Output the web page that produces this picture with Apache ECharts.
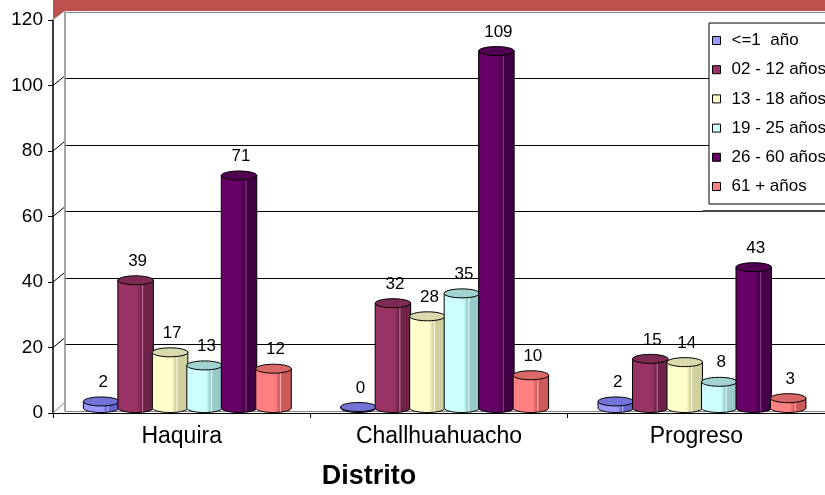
<!DOCTYPE html>
<html><head><meta charset="utf-8">
<script src="https://cdn.jsdelivr.net/npm/echarts@6/dist/echarts.min.js"></script>
<style>html,body{margin:0;padding:0;background:#fff}#c{width:825px;height:495px}</style>
</head><body><div id="c"></div>
<script>
// ---- data ----
const categories = ['Haquira', 'Challhuahuacho', 'Progreso'];
const seriesNames = ['<=1  año', '02 - 12 años', '13 - 18 años', '19 - 25 años', '26 - 60 años', '61 + años'];
const v_le1   = [2, 0, 2];
const v_02_12 = [39, 32, 15];
const v_13_18 = [17, 28, 14];
const v_19_25 = [13, 35, 8];
const v_26_60 = [71, 109, 43];
const v_61    = [12, 10, 3];
const yTicks  = [0, 20, 40, 60, 80, 100, 120];
const axisTitle = 'Distrito';

// ---- styles ----
const FONT = 'Liberation Sans, Arial, sans-serif';
const palette = [
  {base:'#9999FF', dark:'#6565C8', top:'#7474D8', light:'#B8B8FF'},
  {base:'#993366', dark:'#6E2248', top:'#7F2A55', light:'#C07098'},
  {base:'#FFFFCC', dark:'#CFCFA0', top:'#DADAAE', light:'#FFFFE8'},
  {base:'#CCFFFF', dark:'#98CACA', top:'#A2D2D2', light:'#E8FFFF'},
  {base:'#660066', dark:'#440044', top:'#520052', light:'#8A3A8A'},
  {base:'#FF8080', dark:'#CC5A5A', top:'#D96868', light:'#FFB0B0'}
];
const allValues = [v_le1, v_02_12, v_13_18, v_19_25, v_26_60, v_61];

function ellipsePts(cx, cy, rx, ry, from, to, n) {
  const pts = [];
  for (let i = 0; i <= n; i++) {
    const a = from + (to - from) * i / n;
    pts.push([cx + rx * Math.cos(a), cy + ry * Math.sin(a)]);
  }
  return pts;
}

function makeRender(k) {
  const st = palette[k];
  return function (params, api) {
    const cat = api.value(0), v = api.value(1);
    const band = api.size([1, 0])[0];
    const w = band * 0.134;
    const p0 = api.coord([cat, 0]);
    const p1 = api.coord([cat, v]);
    const cx = p0[0] + band * 0.022 + (k - 2.5) * w;
    const rx = w / 2 + 0.5, ry = 4.5;
    const yB = p0[1] - 5;
    const yT = Math.min(p1[1] - 5, yB - 1);
    const body = [[cx - rx, yT]].concat(ellipsePts(cx, yB, rx, ry, Math.PI, 0, 20)).concat([[cx + rx, yT]]);
    const grad = {type:'linear', x:0, y:0, x2:1, y2:0, colorStops:[
      {offset:0, color:st.base}, {offset:0.55, color:st.base},
      {offset:0.66, color:st.dark}, {offset:0.69, color:st.light}, {offset:0.72, color:st.dark},
      {offset:1, color:st.dark}]};
    return {
      type:'group',
      children:[
        {type:'polygon', shape:{points:body}, style:{fill:grad, stroke:'#000', lineWidth:1}},
        {type:'polygon', shape:{points:ellipsePts(cx, yT, rx, ry, 0, Math.PI*2, 28)}, style:{fill:st.top, stroke:'#000', lineWidth:1}},
        {type:'text', x:cx + 2, y:yT - 19, style:{text:String(v), fill:'#000', font:'17px ' + FONT, align:'center', verticalAlign:'middle'}}
      ]
    };
  };
}

const chart = echarts.init(document.getElementById('c'), null, {renderer:'canvas'});

const series = allValues.map((vals, k) => ({
  name: seriesNames[k],
  type: 'custom',
  xAxisIndex: 0, yAxisIndex: 0,
  itemStyle: {color: palette[k].base},
  renderItem: makeRender(k),
  encode: {x: 0, y: 1},
  data: vals.map((v, i) => [i, v]),
  z: 5
}));

// depth connectors from front y ticks to back wall gridlines
series.push({
  type:'custom', name:'_depth', silent:true, xAxisIndex:0, yAxisIndex:0, z:2,
  encode:{x:0, y:1},
  data: yTicks.map(v => [0, v]),
  renderItem: function (params, api) {
    const v = api.value(1);
    const band = api.size([1, 0])[0];
    const p = api.coord([0, v]);
    const left = p[0] - band / 2;
    const grey = (v === 0 || v === 120);
    return {type:'line', shape:{x1:left, y1:p[1], x2:left + 11, y2:p[1] - (v === 0 ? 10 : 9)},
            style:{stroke: grey ? '#888' : '#000', lineWidth:1}};
  }
});

const option = {
  animation: false,
  backgroundColor: '#fff',
  color: palette.map(p => p.base),
  textStyle: {fontFamily: FONT},
  grid: [
    {left:53, right:-4, top:20, bottom:73, containLabel:false},
    {left:65, right:-4, top:12, bottom:84, containLabel:false}
  ],
  legend: {
    data: seriesNames,
    orient:'vertical', left:709, top:23,
    backgroundColor:'#fff', borderColor:'#000', borderWidth:1,
    padding:[9, 40, 9, 3],
    itemWidth:8, itemHeight:8, itemGap:12.2,
    icon:'rect',
    itemStyle:{borderColor:'#000', borderWidth:1},
    textStyle:{fontSize:17, lineHeight:17, color:'#000', fontFamily:FONT, padding:[0,0,0,6]},
    selectedMode:false
  },
  xAxis: [
    {type:'category', gridIndex:0, data:categories,
     axisLine:{lineStyle:{color:'#000', width:1}},
     axisTick:{show:true, length:5, lineStyle:{color:'#000'}},
     axisLabel:{fontSize:23, color:'#000', margin:12, fontFamily:FONT},
     name: axisTitle, nameLocation:'middle', nameGap:50,
     nameTextStyle:{fontSize:27, fontWeight:'bold', color:'#000', fontFamily:FONT, padding:[0,140,0,0]}},
    {type:'category', gridIndex:1, data:categories, show:false}
  ],
  yAxis: [
    {type:'value', gridIndex:0, min:0, max:120, interval:20,
     axisLine:{show:true, lineStyle:{color:'#000', width:1.5}},
     axisTick:{show:true, length:5, lineStyle:{color:'#000'}},
     axisLabel:{fontSize:19, color:'#000', margin:10, fontFamily:FONT},
     splitLine:{show:false}},
    {type:'value', gridIndex:1, min:0, max:120, interval:20,
     axisLine:{show:true, lineStyle:{color:'#888', width:1.5}},
     axisTick:{show:false}, axisLabel:{show:false},
     splitLine:{show:true, lineStyle:{color:['#888','#000','#000','#000','#000','#000','#888'], width:1}}}
  ],
  graphic: [
    {type:'polygon', shape:{points:[[53,0],[825,0],[825,11],[65,11],[53,19]]}, style:{fill:'#C0504D'}, z:1},
    {type:'rect', shape:{x:703, y:210, width:122, height:2}, style:{fill:'#444'}, z:1}
  ],
  series: series
};
chart.setOption(option);
</script>
</body></html>
